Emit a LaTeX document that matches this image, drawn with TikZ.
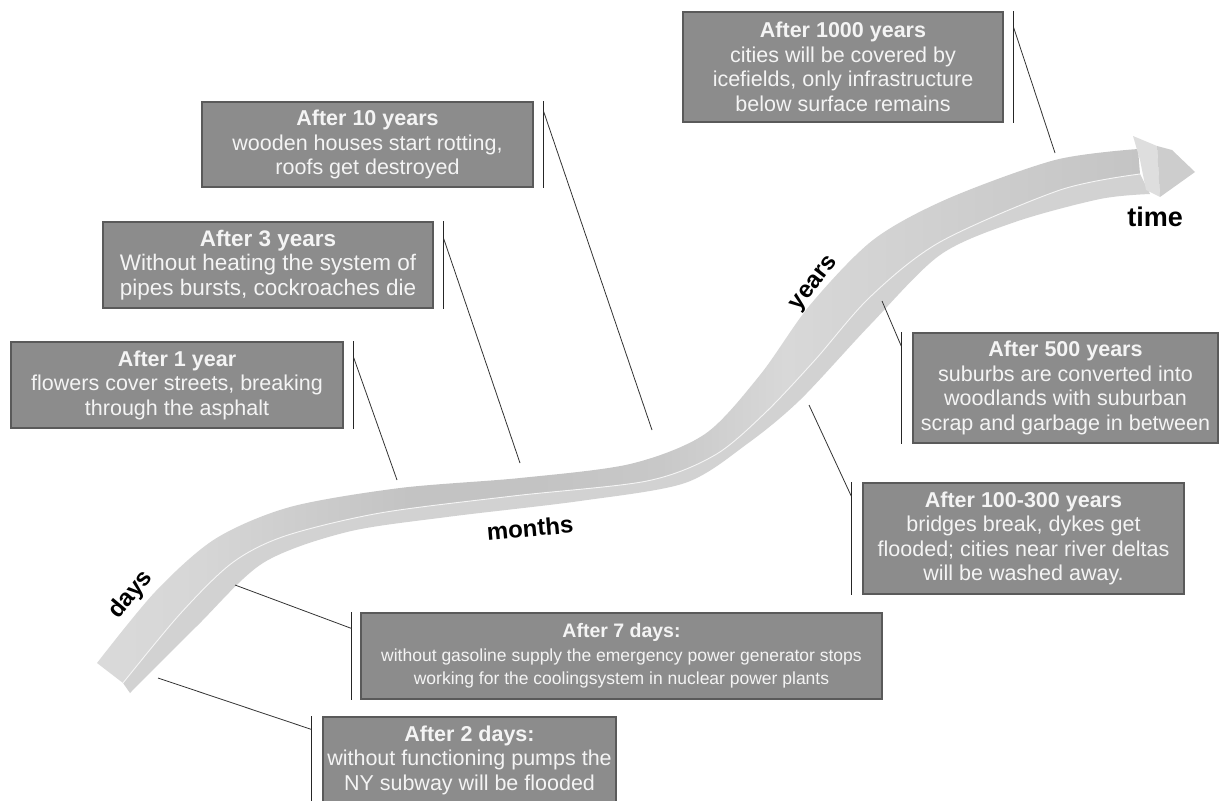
\documentclass[tikz,border=0pt]{standalone}
\usepackage{fontspec}
\setmainfont{Liberation Sans}
\usetikzlibrary{calc}

\definecolor{boxfill}{HTML}{8C8C8C}
\definecolor{boxedge}{HTML}{5A5A5A}
\definecolor{boxtext}{HTML}{F4F4F4}
\definecolor{ribbonside}{HTML}{D2D2D2}
\definecolor{arrowback}{HTML}{DEDEDE}
\definecolor{arrowtop}{HTML}{CDCDCD}
% tones of the ribbon's upper face, from the tail to the head
\definecolor{rA}{HTML}{DADADA}
\definecolor{rB}{HTML}{D6D6D6}
\definecolor{rC}{HTML}{C3C3C3}
\definecolor{rD}{HTML}{C8C8C8}
\definecolor{rE}{HTML}{D8D8D8}
\definecolor{rF}{HTML}{D0D0D0}
\definecolor{rG}{HTML}{C4C4C4}
\pgfdeclarehorizontalshading{ribbontop}{100bp}{color(0bp)=(rA); color(25bp)=(rA); color(30bp)=(rB); color(40bp)=(rC); color(46bp)=(rC); color(52bp)=(rD); color(58bp)=(rE); color(65bp)=(rF); color(75bp)=(rG); color(100bp)=(rG)}

\begin{document}
\begin{tikzpicture}[x=1pt,y=-1pt,
  infobox/.style={draw=boxedge, line width=1.2, fill=boxfill, text=boxtext,
    align=center, font=\fontsize{21.5}{24.5}\selectfont, inner sep=0pt},
  smalltext/.style={font=\fontsize{17.5}{23.5}\selectfont},
  widetext/.style={font=\fontsize{22.5}{24.5}\selectfont},
  bracket/.style={draw=black!85, line width=1.1},
  leader/.style={draw=black!80, line width=0.8},
  scalelabel/.style={font=\fontsize{24}{28}\selectfont\bfseries, text=black}]
\useasboundingbox (0,0) rectangle (1230,800);

% ---- the time ribbon: upper face, side face, edge highlight ----
\shade[shading=ribbontop]
  plot[smooth] coordinates {(97,663) (155,592) (215,539) (290,507) (400,488) (520,478) (630,464) (705,434) (760,375) (810,305) (873,240) (947,199) (1055,160) (1138,149)}
  -- plot[smooth] coordinates {(1140,174) (1060,190) (940,242) (870,297) (815,360) (765,413) (715,455) (647,481) (513,496) (380,513) (285,536) (232,563) (180,614) (123,683)}
  -- cycle;
\fill[ribbonside]
  plot[smooth] coordinates {(123,683) (180,614) (232,563) (285,536) (380,513) (513,496) (647,481) (715,455) (765,413) (815,360) (870,297) (940,242) (1060,190) (1140,174)}
  -- plot[smooth] coordinates {(1150,194) (1100,199) (1015,222) (940,255) (870,325) (800,400) (747,444) (685,483) (580,501) (447,517) (347,532) (263,563) (197,626) (130,693)}
  -- cycle;
\draw[white!92!gray, line width=0.9]
  plot[smooth] coordinates {(123,683) (180,614) (232,563) (285,536) (380,513) (513,496) (647,481) (715,455) (765,413) (815,360) (870,297) (940,242) (1060,190) (1140,174)};

% ---- arrow head ----
\fill[arrowback] (1133,136) -- (1157,146) -- (1160,197) -- (1146,190) -- (1140,160) -- cycle;
\fill[arrowtop] (1157,146) -- (1172,150) -- (1195,172) -- (1160,197) -- cycle;

% ---- scale labels ----
\node[scalelabel, rotate=50] (lbl-days) at (131,595) {days};
\node[scalelabel, rotate=5] (lbl-months) at (530,528) {months};
\node[scalelabel, rotate=52] (lbl-years) at (815,284) {years};
\node[scalelabel, font=\fontsize{27}{30}\selectfont\bfseries] (lbl-time) at (1155,217) {time};

% ---- points on the ribbon ----
\coordinate (r1000) at (1055,153);
\coordinate (r10) at (652,430);
\coordinate (r3) at (520,463);
\coordinate (r1) at (397,480);
\coordinate (r500) at (882,301);
\coordinate (r100) at (809,405);
\coordinate (r7) at (235,585);
\coordinate (r2) at (158,678);

% ---- event boxes ----
\node[infobox, minimum width=320, minimum height=110] (b1000) at (843,67)
  {\textbf{After 1000 years}\\cities will be covered by\\icefields, only infrastructure\\below surface remains};
\node[infobox, minimum width=331, minimum height=85] (b10) at (367.5,144.5)
  {\textbf{After 10 years}\\wooden houses start rotting,\\roofs get destroyed};
\node[infobox, widetext, minimum width=330, minimum height=86] (b3) at (268,265)
  {\textbf{After 3 years}\\Without heating the system of\\pipes bursts, cockroaches die};
\node[infobox, minimum width=332, minimum height=86] (b1) at (177,385)
  {\textbf{After 1 year}\\flowers cover streets, breaking\\through the asphalt};
\node[infobox, minimum width=305, minimum height=110] (b500) at (1065.5,388)
  {\textbf{After 500 years}\\suburbs are converted into\\woodlands with suburban\\scrap and garbage in between};
\node[infobox, minimum width=321, minimum height=111] (b100) at (1023.5,538.5)
  {\textbf{After 100-300 years}\\bridges break, dykes get\\flooded; cities near river deltas\\will be washed away.};
\node[infobox, smalltext, minimum width=521, minimum height=86] (b7) at (621.5,656)
  {{\fontsize{19.5}{23.5}\selectfont\textbf{After 7 days:}}\\without gasoline supply the emergency power generator stops\\working for the coolingsystem in nuclear power plants};
\node[infobox, minimum width=293, minimum height=86] (b2) at (469.5,760)
  {\textbf{After 2 days:}\\without functioning pumps the\\NY subway will be flooded};

% ---- brackets beside the boxes and leaders to the ribbon ----
\draw[bracket] ($(b1000.north east)+(10,0)$) -- ($(b1000.south east)+(10,0)$);
\draw[leader] ($(b1000.north east)+(10,16)$) -- (r1000);
\draw[bracket] ($(b10.north east)+(10,0)$) -- ($(b10.south east)+(10,0)$);
\draw[leader] ($(b10.north east)+(10,10)$) -- (r10);
\draw[bracket] ($(b3.north east)+(10,0)$) -- ($(b3.south east)+(10,0)$);
\draw[leader] ($(b3.north east)+(10,17)$) -- (r3);
\draw[bracket] ($(b1.north east)+(10,0)$) -- ($(b1.south east)+(10,0)$);
\draw[leader] ($(b1.north east)+(10,16)$) -- (r1);
\draw[bracket] ($(b500.north west)+(-11,0)$) -- ($(b500.south west)+(-11,0)$);
\draw[leader] (r500) -- ($(b500.north west)+(-11,14)$);
\draw[bracket] ($(b100.north west)+(-11,0)$) -- ($(b100.south west)+(-11,0)$);
\draw[leader] (r100) -- ($(b100.north west)+(-11,14)$);
\draw[bracket] ($(b7.north west)+(-9,0)$) -- ($(b7.south west)+(-9,0)$);
\draw[leader] (r7) -- ($(b7.north west)+(-9,16)$);
\draw[bracket] ($(b2.north west)+(-11,0)$) -- ($(b2.south west)+(-11,0)$);
\draw[leader] (r2) -- ($(b2.north west)+(-11,13)$);
\end{tikzpicture}
\end{document}
